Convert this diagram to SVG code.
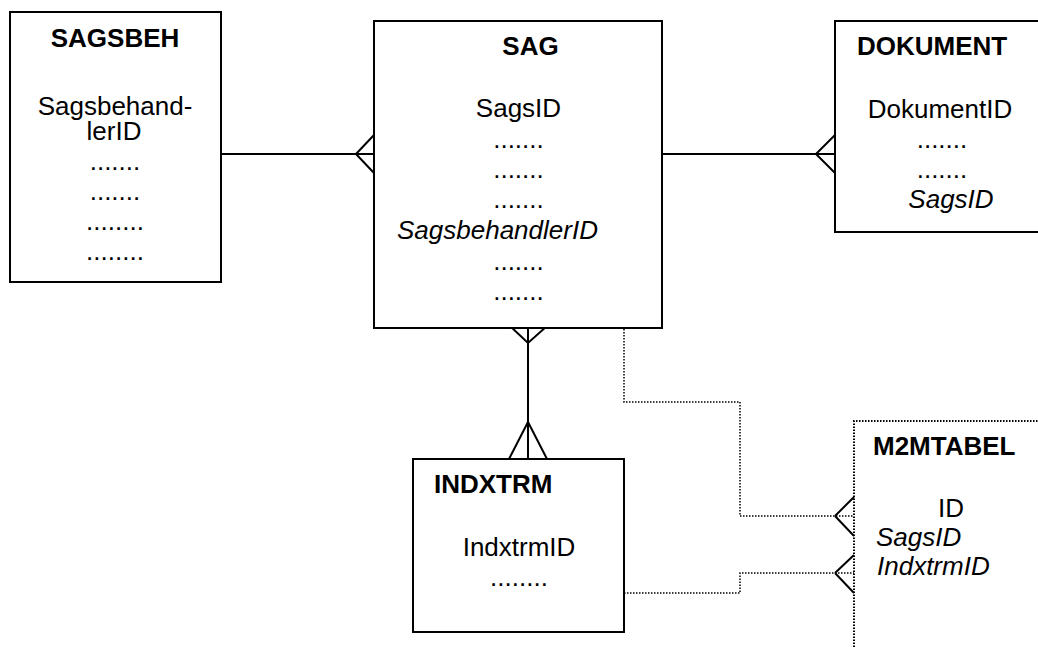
<svg xmlns="http://www.w3.org/2000/svg" width="1038" height="647" viewBox="0 0 1038 647">
<style>
.box{fill:#fff;stroke:#000;stroke-width:2}
.dbox{fill:none;stroke:#000;stroke-width:2;stroke-dasharray:1.5 1.5}
.t{font-family:"Liberation Sans",Arial,sans-serif;font-size:26px;fill:#000}
.b{font-weight:bold}
.i{font-style:italic}
.m{text-anchor:middle}
.ln{fill:none;stroke:#000;stroke-width:2}
.dl{fill:none;stroke:#000;stroke-width:1.5;stroke-dasharray:1.5 1.5}
</style>
<rect width="1038" height="647" fill="#fff"/>
<g id="connectors">
<path class="ln" d="M221 154H374M356 154L374 135M356 154L374 173"/>
<path class="ln" d="M662 154H835M816 154L835 135M816 154L835 173"/>
<path class="ln" d="M528 326V459M510 326L528 343L547 326M509 459L528 422L547 459"/>
<path class="dl" d="M624 326V402H740V516H854"/>
<path class="ln" d="M835 516L854 497M835 516L854 536"/>
<path class="dl" d="M624 593H740V573H854"/>
<path class="ln" d="M835 573L854 555M835 573L854 593"/>
</g>
<g id="SAGSBEH">
<rect class="box" x="10" y="12" width="211" height="270"/>
<text class="t b m" x="115" y="47">SAGSBEH</text>
<text class="t m" x="115" y="115">Sagsbehand-</text>
<text class="t m" x="114" y="140">lerID</text>
<text class="t m" x="115" y="170">.......</text>
<text class="t m" x="115" y="200">.......</text>
<text class="t m" x="115" y="230">........</text>
<text class="t m" x="115" y="260">........</text>
</g>
<g id="SAG">
<rect class="box" x="374" y="21" width="288" height="307"/>
<text class="t b m" x="530.5" y="55">SAG</text>
<text class="t m" x="518.5" y="117">SagsID</text>
<text class="t m" x="518.5" y="148">.......</text>
<text class="t m" x="518.5" y="178">.......</text>
<text class="t m" x="518.5" y="208">.......</text>
<text class="t i" x="397" y="239">SagsbehandlerID</text>
<text class="t m" x="518.5" y="270">.......</text>
<text class="t m" x="518.5" y="300">.......</text>
</g>
<g id="DOKUMENT">
<rect class="box" x="835" y="21" width="210" height="211"/>
<text class="t b" x="857" y="55">DOKUMENT</text>
<text class="t m" x="940" y="118">DokumentID</text>
<text class="t m" x="942" y="148">.......</text>
<text class="t m" x="942" y="178">.......</text>
<text class="t i m" x="951" y="208">SagsID</text>
</g>
<g id="INDXTRM">
<rect class="box" x="413" y="459" width="211" height="173"/>
<text class="t b" x="434" y="493">INDXTRM</text>
<text class="t m" x="519" y="556">IndxtrmID</text>
<text class="t m" x="519" y="586">........</text>
</g>
<g id="M2MTABEL">
<path class="dbox" d="M854 647V421H1038"/>
<text class="t b" x="873" y="455">M2MTABEL</text>
<text class="t m" x="951" y="517">ID</text>
<text class="t i" x="876" y="546">SagsID</text>
<text class="t i" x="877" y="575">IndxtrmID</text>
</g>
</svg>
